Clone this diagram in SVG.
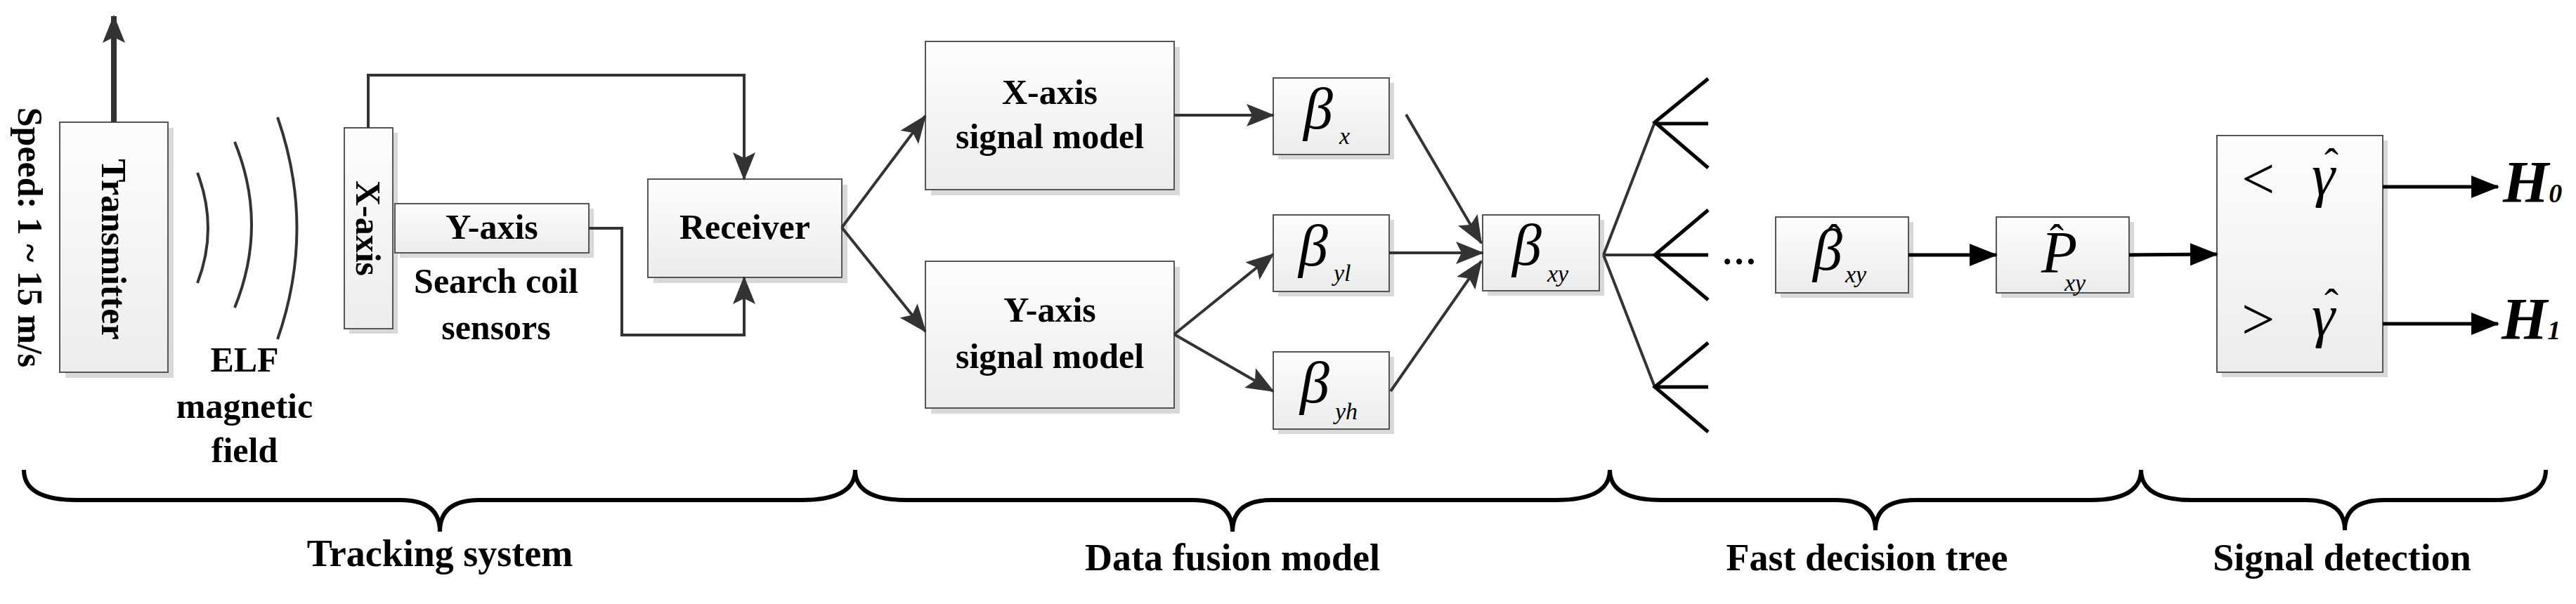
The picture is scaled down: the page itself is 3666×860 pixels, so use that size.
<svg xmlns="http://www.w3.org/2000/svg" width="3666" height="860" viewBox="0 0 3666 860">
<style>
.box{fill:url(#g);stroke:#555;stroke-width:2}
.sh{fill:#d9d9d9}
.t{font-family:"Liberation Serif","DejaVu Serif",serif;font-weight:bold;font-size:50px;fill:#000;text-anchor:middle}
.b{font-family:"Liberation Serif","DejaVu Serif",serif;font-weight:bold;font-size:54px;fill:#000;text-anchor:middle}
.m{font-family:"Liberation Serif","DejaVu Serif",serif;font-style:italic;font-size:84px;fill:#000}
.o{font-family:"Liberation Serif","DejaVu Serif",serif;font-size:84px;fill:#000}
.h{font-family:"Liberation Serif","DejaVu Serif",serif;font-size:60px;fill:#000}
.s{font-family:"Liberation Serif","DejaVu Serif",serif;font-style:italic;font-size:34px;fill:#000}
.c{fill:none;stroke:#333;stroke-width:4}
.k{fill:none;stroke:#000;stroke-width:5}
.br{fill:none;stroke:#000;stroke-width:6}
</style>
<defs>
<linearGradient id="g" x1="0" y1="0" x2="0" y2="1"><stop offset="0" stop-color="#fdfdfd"/><stop offset="1" stop-color="#ececec"/></linearGradient>
<marker id="a" markerUnits="userSpaceOnUse" markerWidth="40" markerHeight="32" refX="38" refY="16" orient="auto"><path d="M0,0 L40,16 L0,32 L8,16 Z" fill="#333"/></marker>
<marker id="ak" markerUnits="userSpaceOnUse" markerWidth="40" markerHeight="32" refX="38" refY="16" orient="auto"><path d="M0,0 L40,16 L0,32 Z" fill="#000"/></marker>
</defs>
<g id="speed"><text class="t" transform="translate(43,338) rotate(90)" dy="17">Speed: 1 ~ 15 m/s</text></g>
<g id="transmitter"><rect class="sh" x="93" y="182" width="154" height="356"/><rect class="box" x="85" y="174" width="154" height="356"/><text class="t" transform="translate(162,355) rotate(90)" dy="17">Transmitter</text></g>
<g id="field"><path class="c" d="M281,246 Q311,325 281,403"/><path class="c" d="M334,202 Q382,320 334,438"/><path class="c" d="M395,167 Q450,325 395,483"/>
<text class="t" x="348" y="529">ELF</text><text class="t" x="348" y="595">magnetic</text><text class="t" x="348" y="658">field</text></g>
<g id="xaxis"><rect class="sh" x="497" y="189" width="69" height="286"/><rect class="box" x="490" y="182" width="69" height="286"/><text class="t" transform="translate(524,325) rotate(90)" dy="17">X-axis</text></g>
<g id="yaxis"><rect class="sh" x="569" y="297" width="276" height="70"/><rect class="box" x="562" y="290" width="276" height="70"/><text class="t" x="700" y="340">Y-axis</text>
<text class="t" x="706" y="417">Search coil</text><text class="t" x="706" y="483">sensors</text></g>
<g id="receiver"><rect class="sh" x="930" y="263" width="276" height="140"/><rect class="box" x="922" y="255" width="276" height="140"/><text class="t" x="1060" y="340">Receiver</text></g>
<g id="xmodel"><rect class="sh" x="1325" y="67" width="354" height="211"/><rect class="box" x="1317" y="59" width="354" height="211"/><text class="t" x="1494" y="148">X-axis</text><text class="t" x="1494" y="211">signal model</text></g>
<g id="ymodel"><rect class="sh" x="1325" y="380" width="354" height="209"/><rect class="box" x="1317" y="372" width="354" height="209"/><text class="t" x="1494" y="458">Y-axis</text><text class="t" x="1494" y="524">signal model</text></g>
<g id="bx"><rect class="sh" x="1819" y="118" width="165" height="109"/><rect class="box" x="1812" y="111" width="165" height="109"/><text class="m" x="1855" y="183">β</text><text class="s" x="1906" y="205">x</text></g>
<g id="byl"><rect class="sh" x="1819" y="313" width="165" height="109"/><rect class="box" x="1812" y="306" width="165" height="109"/><text class="m" x="1848" y="378">β</text><text class="s" x="1898" y="400">yl</text></g>
<g id="byh"><rect class="sh" x="1819" y="508" width="165" height="110"/><rect class="box" x="1812" y="501" width="165" height="110"/><text class="m" x="1850" y="573">β</text><text class="s" x="1900" y="597">yh</text></g>
<g id="bxy"><rect class="sh" x="2117" y="313" width="166" height="108"/><rect class="box" x="2110" y="306" width="166" height="108"/><text class="m" x="2152" y="377">β</text><text class="s" x="2202" y="401">xy</text></g>
<g id="tree"><path class="c" d="M2282,363 L2355,174 M2282,363 L2355,363 M2282,363 L2355,551"/>
<path class="k" d="M2431,112 L2355,174 L2431,239 M2355,176 L2431,176 M2431,299 L2355,363 L2431,427 M2355,363 L2431,363 M2431,488 L2355,551 L2431,615 M2355,551 L2431,551"/>
<text class="t" x="2475" y="376">…</text></g>
<g id="bhat"><rect class="sh" x="2534" y="316" width="189" height="108"/><rect class="box" x="2527" y="309" width="189" height="108"/><text class="m" x="2580" y="384">β</text><text class="h" x="2600" y="360">ˆ</text><text class="s" x="2626" y="402">xy</text></g>
<g id="phat"><rect class="sh" x="2848" y="316" width="189" height="108"/><rect class="box" x="2841" y="309" width="189" height="108"/><text class="m" x="2905" y="388">P</text><text class="h" x="2917" y="360">ˆ</text><text class="s" x="2938" y="414">xy</text></g>
<g id="detect"><rect class="sh" x="3162" y="200" width="236" height="337"/><rect class="box" x="3155" y="193" width="236" height="337"/>
<text class="o" x="3190" y="283">&lt;</text><text class="m" x="3290" y="278">γ</text><text class="h" x="3308" y="252">ˆ</text>
<text class="o" x="3190" y="483">&gt;</text><text class="m" x="3290" y="478">γ</text><text class="h" x="3308" y="452">ˆ</text></g>
<g id="h0"><text class="m" x="3562" y="288" font-weight="bold" font-size="54">H<tspan font-size="38">0</tspan></text></g>
<g id="h1"><text class="m" x="3560" y="483" font-weight="bold" font-size="54">H<tspan font-size="38">1</tspan></text></g>
<g id="connectors">
<path fill="none" stroke="#333" stroke-width="8" marker-end="url(#a)" d="M162,174 L162,23"/>
<path class="c" marker-end="url(#a)" d="M524,182 L524,107 L1059,107 L1059,255"/>
<path class="c" marker-end="url(#a)" d="M838,325 L885,325 L885,477 L1059,477 L1059,395"/>
<path class="c" marker-end="url(#a)" d="M1198,324 L1317,165"/>
<path class="c" marker-end="url(#a)" d="M1198,324 L1317,472"/>
<path class="c" marker-end="url(#a)" d="M1671,164 L1812,164"/>
<path class="c" marker-end="url(#a)" d="M1671,476 L1812,362"/>
<path class="c" marker-end="url(#a)" d="M1671,476 L1812,557"/>
<path class="c" marker-end="url(#a)" d="M2001,163 L2108,346"/>
<path class="c" marker-end="url(#a)" d="M1977,360 L2110,360"/>
<path class="c" marker-end="url(#a)" d="M1979,557 L2108,372"/>
<path class="k" marker-end="url(#ak)" d="M2716,363 L2841,363"/>
<path class="k" marker-end="url(#ak)" d="M3030,363 L3155,362"/>
<path class="k" marker-end="url(#ak)" d="M3391,266 L3555,266"/>
<path class="k" marker-end="url(#ak)" d="M3391,461 L3555,461"/>
</g>
<g id="braces">
<path class="br" d="M34,669 Q34,712 110,712 L570,712 Q626,712 626,757 Q626,712 682,712 L1140,712 Q1217,712 1217,669"/>
<path class="br" d="M1217,669 Q1217,712 1290,712 L1698,712 Q1754,712 1754,757 Q1754,712 1810,712 L2215,712 Q2291,712 2291,669"/>
<path class="br" d="M2291,669 Q2291,712 2365,712 L2613,712 Q2669,712 2669,755 Q2669,712 2725,712 L2975,712 Q3047,712 3047,669"/>
<path class="br" d="M3047,669 Q3047,712 3120,712 L3281,712 Q3337,712 3337,755 Q3337,712 3393,712 L3550,712 Q3623,712 3623,669"/>
<text class="b" x="626" y="806">Tracking system</text>
<text class="b" x="1754" y="812">Data fusion model</text>
<text class="b" x="2657" y="812">Fast decision tree</text>
<text class="b" x="3333" y="812">Signal detection</text>
</g>
</svg>
